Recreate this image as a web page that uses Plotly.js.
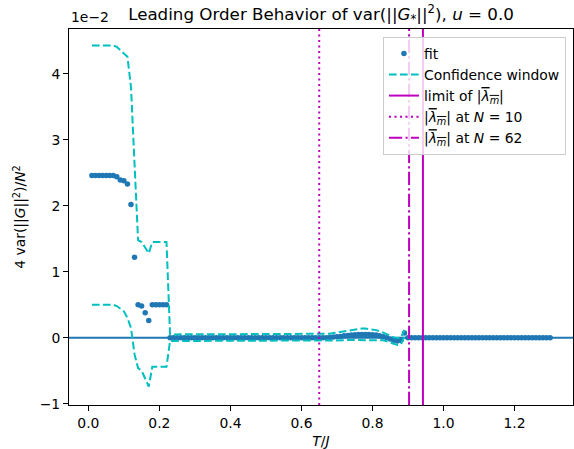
<!DOCTYPE html>
<html>
<head>
<meta charset="utf-8">
<script src="https://cdn.plot.ly/plotly-3.0.1.min.js"></script>
<style>html,body{margin:0;padding:0;background:#fff;}#chart{width:574px;height:449px;}</style>
</head>
<body>
<div id="chart"></div>
<script>
// T/J grid (points every 0.01)
const T = [0.01,0.02,0.03,0.04,0.05,0.06,0.07,0.08,0.09,0.10,
0.11,0.12,0.13,0.14,0.15,0.16,0.17,0.18,0.19,0.20,
0.21,0.22,0.23,0.24,0.25,0.26,0.27,0.28,0.29,0.30,
0.31,0.32,0.33,0.34,0.35,0.36,0.37,0.38,0.39,0.40,
0.41,0.42,0.43,0.44,0.45,0.46,0.47,0.48,0.49,0.50,
0.51,0.52,0.53,0.54,0.55,0.56,0.57,0.58,0.59,0.60,
0.61,0.62,0.63,0.64,0.65,0.66,0.67,0.68,0.69,0.70,
0.71,0.72,0.73,0.74,0.75,0.76,0.77,0.78,0.79,0.80,
0.81,0.82,0.83,0.84,0.85,0.86,0.87,0.88,0.89,0.90,
0.91,0.92,0.93,0.94,0.95,0.96,0.97,0.98,0.99,1.00,
1.01,1.02,1.03,1.04,1.05,1.06,1.07,1.08,1.09,1.10,
1.11,1.12,1.13,1.14,1.15,1.16,1.17,1.18,1.19,1.20,
1.21,1.22,1.23,1.24,1.25,1.26,1.27,1.28,1.29,1.30];

// fit values (units of 1e-2)
const fitVals = [2.46,2.46,2.46,2.46,2.46,2.46,2.46,2.44,2.39,2.38,
2.33,2.02,1.22,0.50,0.48,0.38,0.26,0.50,0.50,0.50,
0.50,0.50,0.00,0.00,0.00,0.00,0.00,0.00,0.00,0.00,
0.00,0.00,0.00,0.00,0.00,0.00,0.00,0.00,0.00,0.00,
0.00,0.00,0.00,0.00,0.00,0.00,0.00,0.00,0.00,0.00,
0.00,0.00,0.00,0.00,0.00,0.00,0.00,0.00,0.00,0.00,
0.00,0.00,0.00,0.00,0.00,0.00,0.00,0.005,0.01,0.015,
0.02,0.03,0.035,0.04,0.045,0.05,0.05,0.05,0.05,0.045,
0.04,0.03,0.015,0.00,-0.02,-0.04,-0.05,-0.04,0.07,0.00,
0.00,0.00,0.00,0.00,0.00,0.00,0.00,0.00,0.00,0.00,
0.00,0.00,0.00,0.00,0.00,0.00,0.00,0.00,0.00,0.00,
0.00,0.00,0.00,0.00,0.00,0.00,0.00,0.00,0.00,0.00,
0.00,0.00,0.00,0.00,0.00,0.00,0.00,0.00,0.00,0.00];

// confidence window (T from 0.01 to 0.89)
const confUpper = [4.43,4.43,4.43,4.43,4.43,4.43,4.43,4.41,4.36,4.31,
4.26,3.80,2.55,1.48,1.45,1.37,1.28,1.45,1.45,1.45,
1.45,1.45,0.05,0.05,0.05,0.05,0.05,0.05,0.05,0.05,
0.05,0.05,0.05,0.05,0.05,0.05,0.05,0.05,0.05,0.05,
0.05,0.05,0.05,0.05,0.05,0.05,0.05,0.05,0.05,0.05,
0.05,0.05,0.05,0.05,0.05,0.05,0.05,0.05,0.05,0.05,
0.05,0.05,0.05,0.05,0.05,0.05,0.055,0.06,0.07,0.08,
0.09,0.10,0.11,0.12,0.13,0.135,0.14,0.14,0.135,0.125,
0.115,0.10,0.08,0.055,0.03,0.005,-0.005,0.00,0.12];
const confLower = [0.50,0.50,0.50,0.50,0.50,0.50,0.50,0.48,0.44,0.40,
0.30,0.15,-0.25,-0.46,-0.50,-0.62,-0.74,-0.44,-0.44,-0.44,
-0.44,-0.44,-0.05,-0.05,-0.05,-0.05,-0.05,-0.05,-0.05,-0.05,
-0.05,-0.05,-0.05,-0.05,-0.05,-0.05,-0.05,-0.05,-0.05,-0.05,
-0.05,-0.05,-0.05,-0.05,-0.05,-0.05,-0.05,-0.05,-0.05,-0.05,
-0.05,-0.05,-0.05,-0.05,-0.05,-0.05,-0.05,-0.05,-0.05,-0.05,
-0.05,-0.05,-0.05,-0.05,-0.05,-0.05,-0.05,-0.045,-0.045,-0.04,
-0.04,-0.04,-0.035,-0.035,-0.035,-0.035,-0.035,-0.035,-0.035,-0.035,
-0.035,-0.035,-0.04,-0.055,-0.075,-0.10,-0.11,-0.10,0.02];

// vertical reference lines
const vlineX = [0.942, 0.65, 0.903];
const vlineNames = ['limit of |<span style="text-decoration:overline"><i>λ<sub>m</sub></i></span>|',
  '|<span style="text-decoration:overline"><i>λ<sub>m</sub></i></span>| at <i>N</i> = 10',
  '|<span style="text-decoration:overline"><i>λ<sub>m</sub></i></span>| at <i>N</i> = 62'];
const vlineDash = ['solid', '2.1px,3.4px', '13.3px,3.3px,2.1px,3.3px'];

const X_RANGE = [-0.0545, 1.3645];
const Y_RANGE = [-1.02, 4.68];
const Y_TICKS = [-1, 0, 1, 2, 3, 4];
const X_TICKS = [0.0, 0.2, 0.4, 0.6, 0.8, 1.0, 1.2];

const BLUE = '#1f77b4', CYAN = '#00bfbf', MAG = '#bf00bf';
const FONT = 'DejaVu Sans, sans-serif';

const tConf = T.slice(0, confUpper.length);
const traces = [
  {x: T, y: fitVals, type: 'scatter', mode: 'markers', name: 'fit',
   marker: {color: BLUE, size: 5.5}},
  {x: tConf, y: confUpper, type: 'scatter', mode: 'lines', name: 'Confidence window',
   legendgroup: 'conf', line: {color: CYAN, width: 2, dash: '7.7px,3.3px'}},
  {x: tConf, y: confLower, type: 'scatter', mode: 'lines', name: 'Confidence window',
   legendgroup: 'conf', showlegend: false, line: {color: CYAN, width: 2, dash: '7.7px,3.3px'}}
];
vlineX.forEach((v, i) => {
  traces.push({x: [v, v], y: Y_RANGE, type: 'scatter', mode: 'lines', name: vlineNames[i],
    line: {color: MAG, width: 2, dash: vlineDash[i]}});
});

const layout = {
  width: 574, height: 449,
  margin: {l: 69, r: 1, t: 29, b: 44},
  paper_bgcolor: '#fff', plot_bgcolor: '#fff',
  font: {family: FONT, size: 13.9, color: '#000'},
  title: {text: 'Leading Order Behavior of var(||<i>G</i><sub>*</sub>||<sup>2</sup>), <i>u</i> = 0.0',
    font: {family: FONT, size: 16.7, color: '#000'},
    x: 0.5, xref: 'paper', y: 0.969, yref: 'container', yanchor: 'middle'},
  xaxis: {range: X_RANGE, tickvals: X_TICKS, ticktext: X_TICKS.map(v => v.toFixed(1)),
    showgrid: false, zeroline: false, showline: true, mirror: true,
    linecolor: '#000', linewidth: 1.1, ticks: 'outside', ticklen: 4.9, tickwidth: 1.1,
    tickcolor: '#000', tickfont: {family: FONT, size: 13.9},
    title: {text: '<i>T</i>/<i>J</i>', font: {family: FONT, size: 13.9}, standoff: 6}},
  yaxis: {range: Y_RANGE, tickvals: Y_TICKS, ticktext: Y_TICKS.map(v => v < 0 ? '\u2212' + Math.abs(v) : String(v)),
    showgrid: false, zeroline: false, showline: true, mirror: true,
    linecolor: '#000', linewidth: 1.1, ticks: 'outside', ticklen: 4.9, tickwidth: 1.1,
    tickcolor: '#000', tickfont: {family: FONT, size: 13.9},
    title: {text: '4 var(||<i>G</i>||<sup>2</sup>)/<i>N</i><sup>2</sup>', font: {family: FONT, size: 13.9}, standoff: 10}},
  shapes: [
    {type: 'line', xref: 'paper', x0: 0, x1: 1, yref: 'y', y0: 0, y1: 0,
     line: {color: BLUE, width: 2}, layer: 'below'}
  ],
  annotations: [
    {text: '1e\u22122', xref: 'paper', yref: 'paper', x: 0, y: 1, xanchor: 'left', yanchor: 'bottom',
     yshift: 2, showarrow: false, font: {family: FONT, size: 13.9, color: '#000'}}
  ],
  legend: {x: 0.986, y: 0.979, xanchor: 'right', yanchor: 'top',
    bgcolor: 'rgba(255,255,255,0.8)', bordercolor: '#cccccc', borderwidth: 1,
    font: {family: FONT, size: 13.9, color: '#000'}, tracegroupgap: 0},
  showlegend: true
};

Plotly.newPlot('chart', traces, layout, {displayModeBar: false, staticPlot: true});
</script>
</body>
</html>
